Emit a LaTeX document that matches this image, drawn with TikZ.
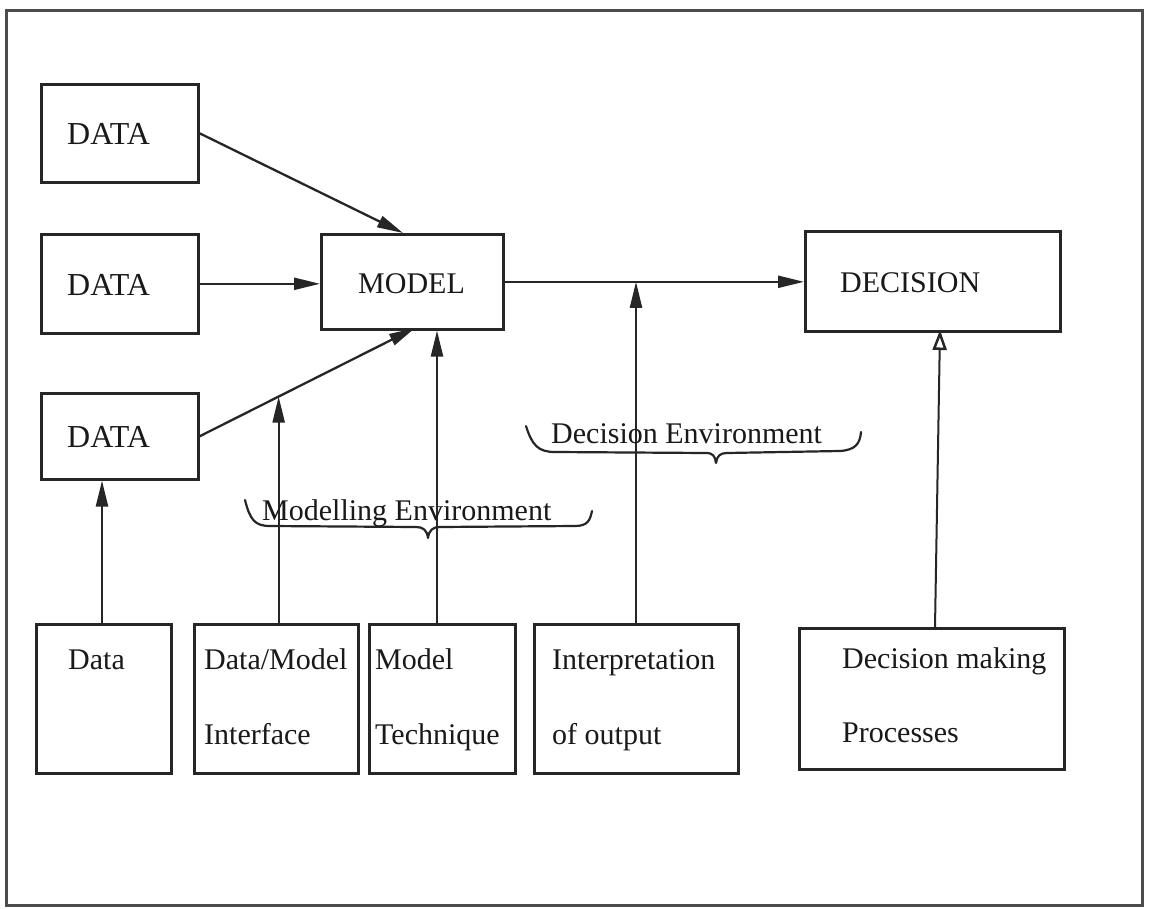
\documentclass[tikz,border=0pt]{standalone}
\usepackage{fontspec}
\setmainfont{Liberation Serif}
\usetikzlibrary{arrows.meta,calc}
\begin{document}
\begin{tikzpicture}[x=1pt,y=-1pt,
  ink/.style={draw=black!85},
  box/.style={ink, line width=2.6pt, rectangle, inner sep=0pt, anchor=north west},
  lbl/.style={anchor=base west, inner sep=0pt, text=black!90,
    font=\fontsize{30}{36}\selectfont},
  biglbl/.style={lbl, font=\fontsize{32}{38}\selectfont},
  arr/.style={ink, line width=2.3pt, -{Triangle[length=26pt,width=12pt]}},
  openarr/.style={ink, line width=2pt, -{Triangle[open,length=20pt,width=14pt,line width=2.5pt]}},
  brace/.style={ink, line width=2.2pt, line cap=round, line join=round}]
\useasboundingbox (0,0) rectangle (1158,909);
\fill[white] (0,0) rectangle (1158,909);
% page frame
\draw[draw=black!70, line width=3pt] (6,11) rectangle (1142,905);

% input data boxes
\node[box, minimum width=157pt, minimum height=98pt] (d1) at (40,83) {};
\node[box, minimum width=157pt, minimum height=99pt] (d2) at (40,233) {};
\node[box, minimum width=157pt, minimum height=86pt] (d3) at (40,392) {};
\node[biglbl] (t1) at (67,145) {DATA};
\node[biglbl] (t2) at (67,295) {DATA};
\node[biglbl] (t3) at (67,447) {DATA};

% model and decision
\node[box, minimum width=182pt, minimum height=95pt] (model) at (320,233) {};
\node[lbl] (tm) at (358,293) {MODEL};
\node[box, minimum width=255pt, minimum height=100pt] (dec) at (804,230) {};
\node[lbl] (td) at (840,292) {DECISION};

% environment boxes along the bottom
\node[box, minimum width=135pt, minimum height=149pt] (b1) at (35,623) {};
\node[box, minimum width=164pt, minimum height=149pt] (b2) at (193,623) {};
\node[box, minimum width=146pt, minimum height=149pt] (b3) at (368,623) {};
\node[box, minimum width=204pt, minimum height=149pt] (b4) at (533,623) {};
\node[box, minimum width=265pt, minimum height=141pt] (b5) at (798,627) {};
\node[lbl] (l1) at (68,669) {Data};
\node[lbl] (l2a) at (204,669) {Data/Model};
\node[lbl] (l2b) at (204,744) {Interface};
\node[lbl] (l3a) at (375,669) {Model};
\node[lbl] (l3b) at (375,744) {Technique};
\node[lbl] (l4a) at (552,669) {Interpretation};
\node[lbl] (l4b) at (552,744) {of output};
\node[lbl] (l5a) at (842,668) {Decision making};
\node[lbl] (l5b) at (842,742) {Processes};

% data flows into the model
\coordinate (m1) at (403,233);
\coordinate (m3) at (415,328);
\draw[arr] (d1.east) -- (m1);
\draw[arr] (d2.east) -- (d2.east -| model.west);
\draw[arr] (d3.east) -- (m3);
\draw[arr] (model.east) -- (model.east -| dec.west);

% environment inputs
\coordinate (p1) at (102,0);
\coordinate (p2) at ($(d3.east)!0.367!(m3)$);
\coordinate (p3) at (437,0);
\coordinate (p4) at (636,0);
\coordinate (p5a) at (935,627);
\coordinate (p5b) at (940,330);
\draw[arr] (p1 |- b1.north) -- (p1 |- d3.south);
\draw[arr] (p2 |- b2.north) -- (p2);
\draw[arr] (p3 |- b3.north) -- (p3 |- model.south);
\draw[arr] (p4 |- b4.north) -- (p4 |- model.east);
\draw[openarr] (p5a) -- (p5b);

% environment braces
\draw[brace] (245,500) .. controls (250,520) and (255,526) .. (270,526)
  -- (416,527) .. controls (423,527) and (427,530) .. (428,538)
  .. controls (429,530) and (433,527) .. (440,527)
  -- (575,526) .. controls (588,526) and (590,520) .. (592,511);
\node[lbl] (me) at (262,520) {Modelling Environment};

\draw[brace] (526,426) .. controls (532,445) and (538,452) .. (555,452)
  -- (706,453) .. controls (713,453) and (715,456) .. (716,463)
  .. controls (717,456) and (720,453) .. (727,453)
  -- (840,451) .. controls (855,450) and (860,444) .. (861,432);
\node[lbl] (de) at (551,443) {Decision Environment};
\end{tikzpicture}
\end{document}
